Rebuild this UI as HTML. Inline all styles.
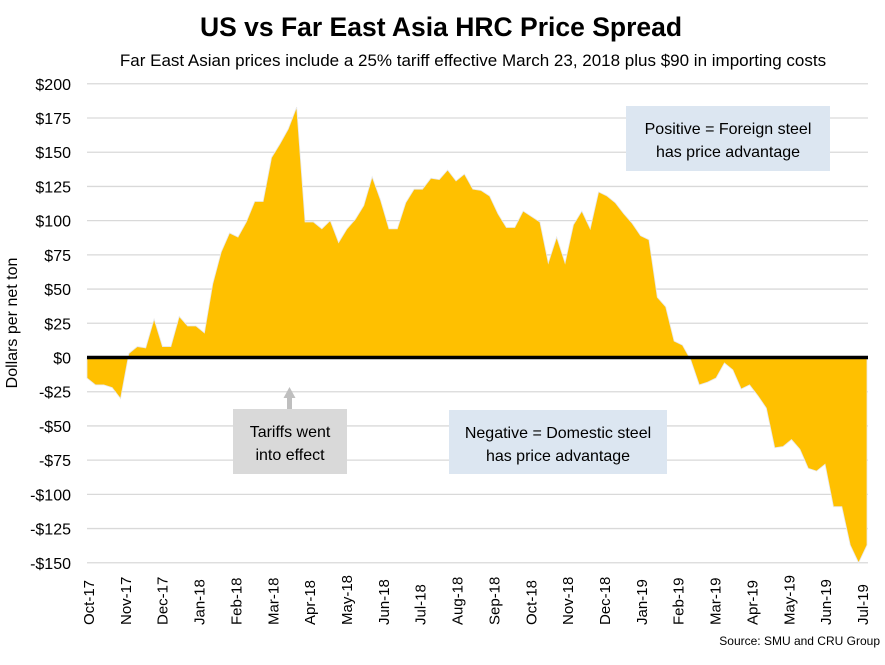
<!DOCTYPE html>
<html><head><meta charset="utf-8"><style>
body{margin:0;background:#fff;font-family:"Liberation Sans","DejaVu Sans",sans-serif}
svg text{font-family:"Liberation Sans","DejaVu Sans",sans-serif}
</style></head><body>
<svg id="chart" width="885" height="660" viewBox="0 0 885 660">
<text x="441" y="36" text-anchor="middle" font-size="26.5" font-weight="bold" fill="#000">US vs Far East Asia HRC Price Spread</text>
<text x="473" y="66" text-anchor="middle" font-size="17" fill="#000">Far East Asian prices include a 25% tariff effective March 23, 2018 plus $90 in importing costs</text>
<text transform="translate(17,323) rotate(-90)" text-anchor="middle" font-size="16" fill="#000">Dollars per net ton</text>
<g id="grid"></g><g id="area"></g><g id="ylabels"></g><g id="xlabels"></g>
<rect x="626" y="106" width="204" height="65" fill="#dce6f1"/>
<text x="728" y="134" text-anchor="middle" font-size="16">Positive = Foreign steel</text>
<text x="728" y="157" text-anchor="middle" font-size="16">has price advantage</text>
<rect x="449" y="410" width="218" height="64" fill="#dce6f1"/>
<text x="558" y="438" text-anchor="middle" font-size="16">Negative = Domestic steel</text>
<text x="558" y="461" text-anchor="middle" font-size="16">has price advantage</text>
<rect x="233" y="409" width="114" height="65" fill="#d9d9d9"/>
<text x="290" y="437" text-anchor="middle" font-size="16">Tariffs went</text>
<text x="290" y="460" text-anchor="middle" font-size="16">into effect</text>
<g><rect x="287" y="397" width="5" height="12" fill="#bfbfbf"/><polygon points="283.5,398 289.5,387 295.5,398" fill="#bfbfbf"/></g>
<text x="880" y="645" text-anchor="end" font-size="12">Source: SMU and CRU Group</text>
</svg>
<script>
const spreadValues=[-15,-20,-20,-22,-30,3,8,7,28,8,8,30,23,23,18,54,77,91,88,99,114,114,146,156,167,183,99,99,94,100,84,94,101,111,132,115,94,94,113,123,123,131,130,137,129,134,123,122,118,105,95,95,107,103,99,69,88,69,97,107,94,121,118,113,105,98,89,86,44,37,12,9,-2,-20,-18,-15,-4,-9,-23,-20,-28,-37,-66,-65,-60,-67,-81,-83,-78,-109,-109,-137,-150,-137];
const yTicks=[200,175,150,125,100,75,50,25,0,-25,-50,-75,-100,-125,-150];
const yTickLabels=["$200","$175","$150","$125","$100","$75","$50","$25","$0","-$25","-$50","-$75","-$100","-$125","-$150"];
const monthLabels=["Oct-17","Nov-17","Dec-17","Jan-18","Feb-18","Mar-18","Apr-18","May-18","Jun-18","Jul-18","Aug-18","Sep-18","Oct-18","Nov-18","Dec-18","Jan-19","Feb-19","Mar-19","Apr-19","May-19","Jun-19","Jul-19"];
const NS="http://www.w3.org/2000/svg";
const X0=87,X1=867,Y0=357.5,PX=479/350;
function yScale(v){return Y0-v*PX;}
function xScale(i){return X0+(X1-X0)*i/(spreadValues.length-1);}
function mx(i){return 88+(862-88)*i/(monthLabels.length-1);}
const grid=document.getElementById('grid');
yTicks.forEach((t,i)=>{
 const l=document.createElementNS(NS,'line');
 l.setAttribute('x1',X0);l.setAttribute('x2',868);l.setAttribute('y1',yScale(t));l.setAttribute('y2',yScale(t));
 l.setAttribute('stroke','#d9d9d9');l.setAttribute('stroke-width','1.3');
 
 
 grid.appendChild(l);
 const tx=document.createElementNS(NS,'text');
 tx.setAttribute('x',71);tx.setAttribute('y',yScale(t)+6);tx.setAttribute('text-anchor','end');tx.setAttribute('font-size','16');
 tx.textContent=yTickLabels[i];
 
 
 document.getElementById('ylabels').appendChild(tx);
});
let d='M'+xScale(0)+','+yScale(0);
spreadValues.forEach((v,i)=>{d+=' L'+xScale(i).toFixed(2)+','+yScale(v).toFixed(2);});
d+=' L'+xScale(spreadValues.length-1)+','+yScale(0)+' Z';
const p=document.createElementNS(NS,'path');
p.setAttribute('d',d);p.setAttribute('fill','#ffc000');p.setAttribute('stroke','#e8e8e8');p.setAttribute('stroke-width','0.8');


document.getElementById('area').appendChild(p);
const z=document.createElementNS(NS,'line');
z.setAttribute('x1',X0);z.setAttribute('x2',868);z.setAttribute('y1',yScale(0));z.setAttribute('y2',yScale(0));
z.setAttribute('stroke','#000');z.setAttribute('stroke-width','3.5');


document.getElementById('area').appendChild(z);
monthLabels.forEach((m,i)=>{
 const tx=document.createElementNS(NS,'text');
 tx.setAttribute('transform','translate('+(mx(i)+6)+',625) rotate(-90)');
 tx.setAttribute('font-size','15');
 tx.textContent=m;
 
 
 document.getElementById('xlabels').appendChild(tx);
});
</script>
</body></html>
